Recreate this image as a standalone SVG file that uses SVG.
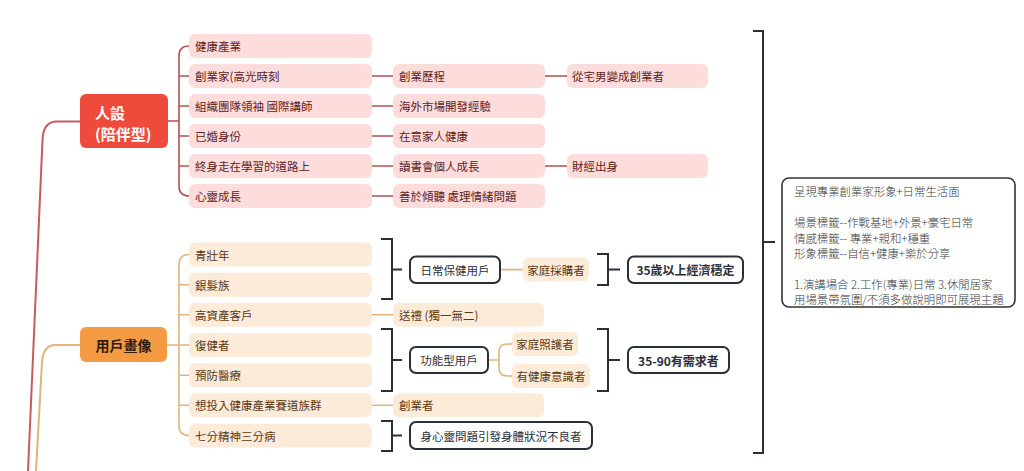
<svg xmlns="http://www.w3.org/2000/svg" width="1024" height="471" viewBox="0 0 1024 471">
<style>
text{font-family:"Noto Sans CJK TC","Noto Sans CJK SC",sans-serif;dominant-baseline:central}
.pk{fill:#FDDCDC}
.pe{fill:#FDEBDA}
.tr{font-size:11.5px;fill:#5E2222}
.to{font-size:11.5px;fill:#5A3712}
.bx{fill:#fff;stroke:#2B2F3A;stroke-width:2}
.tb{font-size:11.5px;fill:#2B2F3A}
.tbb{font-size:12px;font-weight:bold;fill:#2B2F3A}
.lr{fill:none;stroke:#B5504E;stroke-width:1.6}
.lo{fill:none;stroke:#E0B47C;stroke-width:1.6}
.lk{fill:none;stroke:#2B2F3A;stroke-width:2}
.tn{font-size:11.4px;fill:#3a3a3a;font-weight:300}
</style>
<rect width="1024" height="471" fill="#fff"/>
<g id="connectors">
  <path d="M80 121.5 H57 Q43 121.5 42.5 140 L28 471" fill="none" stroke="#C85A5E" stroke-width="2"/>
  <path d="M80 345 H56 Q43 345 42 362 L36 471" fill="none" stroke="#E0B47C" stroke-width="2"/>
  <path class="lr" d="M167 121 H179 M189 46 Q179 46 179 56 V186 Q179 196 189 196 M179 76 H189 M179 106 H189 M179 136 H189 M179 166 H189"/>
  <path class="lr" d="M372 76 H393 M372 106 H393 M372 136 H393 M372 166 H393 M372 196 H393 M545 76 H567 M545 166 H567"/>
  <path class="lo" d="M167 345 H179 M189 254.5 Q179 254.5 179 264.5 V425.5 Q179 435.5 189 435.5 M179 284.7 H189 M179 314.8 H189 M179 345 H189 M179 375.2 H189 M179 405.3 H189"/>
  <path class="lo" d="M372 314.8 H393 M372 405.3 H393 M500 269.6 H523 M488 360 H499 M512 344 H507 Q499 344 499 352 V368 Q499 376 507 376 H512"/>
  <path class="lk" d="M381 239 H392 V299 H381 M392 269.6 H402"/>
  <path class="lk" d="M597 254 H608 V285 H597 M608 269.6 H620"/>
  <path class="lk" d="M381 329 H392 V391 H381 M392 360 H402"/>
  <path class="lk" d="M597 329 H608 V391 H597 M608 360 H620"/>
  <path class="lk" d="M381 421 H392 V451 H381 M392 435.5 H402"/>
  <path class="lk" d="M753 31 H763 V453 H753 M763 242 H775"/>
</g>
<g id="n-renshe"><rect x="80" y="94" width="88" height="54" rx="6" fill="#EE4B3C"/><text x="95" y="112" font-size="15" font-weight="bold" fill="#fff">人設</text><text x="95" y="133" font-size="15" font-weight="bold" fill="#fff">(陪伴型)</text></g>
<g id="n-r1"><rect class="pk" x="189" y="34" width="183" height="24" rx="6"/><text class="tr" x="195" y="46">健康產業</text></g>
<g id="n-r2"><rect class="pk" x="189" y="64" width="183" height="24" rx="6"/><text class="tr" x="195" y="76">創業家(高光時刻</text></g>
<g id="n-r3"><rect class="pk" x="189" y="94" width="183" height="24" rx="6"/><text class="tr" x="195" y="106">組織團隊領袖 國際講師</text></g>
<g id="n-r4"><rect class="pk" x="189" y="124" width="183" height="24" rx="6"/><text class="tr" x="195" y="136">已婚身份</text></g>
<g id="n-r5"><rect class="pk" x="189" y="154" width="183" height="24" rx="6"/><text class="tr" x="195" y="166">終身走在學習的道路上</text></g>
<g id="n-r6"><rect class="pk" x="189" y="184" width="183" height="24" rx="6"/><text class="tr" x="195" y="196">心靈成長</text></g>
<g id="n-r2a"><rect class="pk" x="393" y="64" width="152" height="24" rx="6"/><text class="tr" x="399" y="76">創業歷程</text></g>
<g id="n-r3a"><rect class="pk" x="393" y="94" width="152" height="24" rx="6"/><text class="tr" x="399" y="106">海外市場開發經驗</text></g>
<g id="n-r4a"><rect class="pk" x="393" y="124" width="152" height="24" rx="6"/><text class="tr" x="399" y="136">在意家人健康</text></g>
<g id="n-r5a"><rect class="pk" x="393" y="154" width="152" height="24" rx="6"/><text class="tr" x="399" y="166">讀書會個人成長</text></g>
<g id="n-r6a"><rect class="pk" x="393" y="184" width="152" height="24" rx="6"/><text class="tr" x="399" y="196">善於傾聽 處理情緒問題</text></g>
<g id="n-r2b"><rect class="pk" x="567" y="64" width="141" height="24" rx="6"/><text class="tr" x="572" y="76">從宅男變成創業者</text></g>
<g id="n-r5b"><rect class="pk" x="567" y="154" width="141" height="24" rx="6"/><text class="tr" x="572" y="166">財經出身</text></g>
<g id="n-user"><rect x="80" y="327" width="87" height="35" rx="6" fill="#F39A42"/><text x="123.5" y="345" font-size="14" font-weight="bold" fill="#2B1D0E" text-anchor="middle">用戶畫像</text></g>
<g id="n-o1"><rect class="pe" x="189" y="242.5" width="183" height="24" rx="6"/><text class="to" x="195" y="254.5">青壯年</text></g>
<g id="n-o2"><rect class="pe" x="189" y="272.7" width="183" height="24" rx="6"/><text class="to" x="195" y="284.7">銀髮族</text></g>
<g id="n-o3"><rect class="pe" x="189" y="302.8" width="183" height="24" rx="6"/><text class="to" x="195" y="314.8">高資產客戶</text></g>
<g id="n-o4"><rect class="pe" x="189" y="333" width="183" height="24" rx="6"/><text class="to" x="195" y="345">復健者</text></g>
<g id="n-o5"><rect class="pe" x="189" y="363.2" width="183" height="24" rx="6"/><text class="to" x="195" y="375.2">預防醫療</text></g>
<g id="n-o6"><rect class="pe" x="189" y="393.3" width="183" height="24" rx="6"/><text class="to" x="195" y="405.3">想投入健康產業賽道族群</text></g>
<g id="n-o7"><rect class="pe" x="189" y="423.5" width="183" height="24" rx="6"/><text class="to" x="195" y="435.5">七分精神三分病</text></g>
<g id="n-gift"><rect class="pe" x="393" y="302.8" width="151" height="24" rx="6"/><text class="to" x="399" y="314.8">送禮 (獨一無二)</text></g>
<g id="n-founder"><rect class="pe" x="393" y="393.3" width="151" height="24" rx="6"/><text class="to" x="399" y="405.3">創業者</text></g>
<g id="n-daily"><rect class="bx" x="410" y="256.5" width="90" height="26.5" rx="6"/><text class="tb" x="455" y="269.6" text-anchor="middle">日常保健用戶</text></g>
<g id="n-buyer"><rect class="pe" x="523" y="257.6" width="66" height="24" rx="6"/><text class="to" x="556" y="269.6" text-anchor="middle">家庭採購者</text></g>
<g id="n-35"><rect class="bx" x="628" y="256.5" width="115" height="26.5" rx="6"/><text class="tbb" x="685.5" y="269.6" text-anchor="middle">35歲以上經濟穩定</text></g>
<g id="n-func"><rect class="bx" x="410" y="347" width="78" height="26" rx="6"/><text class="tb" x="449" y="360" text-anchor="middle">功能型用戶</text></g>
<g id="n-care"><rect class="pe" x="512" y="332" width="66" height="24" rx="6"/><text class="to" x="545" y="344" text-anchor="middle">家庭照護者</text></g>
<g id="n-aware"><rect class="pe" x="512" y="364" width="78" height="24" rx="6"/><text class="to" x="551" y="376" text-anchor="middle">有健康意識者</text></g>
<g id="n-3590"><rect class="bx" x="628" y="347" width="101" height="26" rx="6"/><text class="tbb" x="678.5" y="360" text-anchor="middle">35-90有需求者</text></g>
<g id="n-mind"><rect class="bx" x="410" y="422" width="182" height="27" rx="6"/><text class="tb" x="501" y="435.5" text-anchor="middle">身心靈問題引發身體狀況不良者</text></g>
<g id="n-summary"><rect x="782" y="178" width="233" height="129" rx="7" fill="#fff" stroke="#333" stroke-width="1.6"/>
<text class="tn" x="794" y="191">呈現專業創業家形象+日常生活面</text>
<text class="tn" x="794" y="222">場景標籤--作戰基地+外景+豪宅日常</text>
<text class="tn" x="794" y="237.5">情感標籤-- 專業+親和+穩重</text>
<text class="tn" x="794" y="253">形象標籤--自信+健康+樂於分享</text>
<text class="tn" x="794" y="284">1.演講場合 2.工作(專業)日常 3.休閒居家</text>
<text class="tn" x="794" y="299">用場景帶氛圍/不須多做說明即可展現主題</text>
</g>
</svg>
